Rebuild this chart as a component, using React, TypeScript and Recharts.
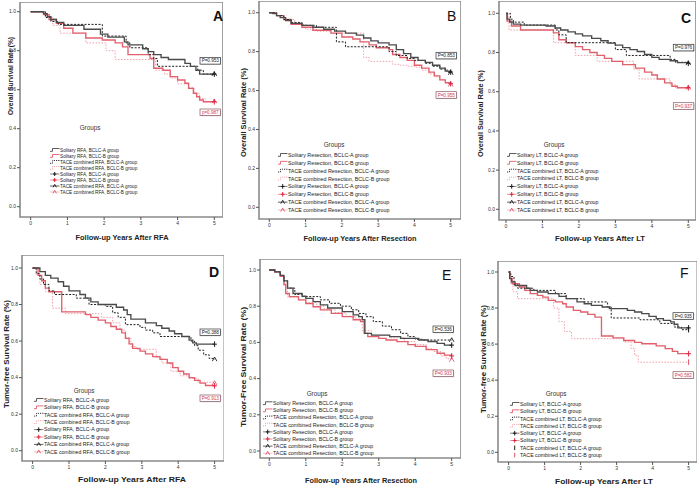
import React from 'react';
import { LineChart, Line, XAxis, YAxis, ReferenceArea } from 'recharts';

type Pt = [number, number];

const yearTicks = [0, 1, 2, 3, 4, 5];
const rateTicks = [0, 0.2, 0.4, 0.6, 0.8, 1.0];

// ---------- Panel A: overall survival after RFA ----------
const rfaOsSolA: Pt[] = [[0,1],[0.35,0.99],[0.45,0.975],[0.55,0.96],[0.7,0.945],[0.9,0.93],[1.45,0.91],[1.9,0.885],[2.1,0.87],[2.55,0.845],[2.65,0.83],[3.05,0.81],[3.2,0.795],[3.35,0.78],[3.55,0.765],[3.75,0.755],[4.2,0.735],[4.35,0.72],[4.5,0.7],[4.6,0.68],[5,0.68]];
const rfaOsTaceA: Pt[] = [[0,1],[0.4,0.97],[0.55,0.95],[0.75,0.935],[1.95,0.875],[2.6,0.84],[2.7,0.815],[3.2,0.78],[3.35,0.76],[3.45,0.72],[4.55,0.7],[4.7,0.68],[5,0.68]];
const rfaOsSolB: Pt[] = [[0,1],[0.35,0.985],[0.5,0.96],[0.7,0.94],[0.9,0.915],[1.15,0.89],[1.5,0.865],[1.95,0.855],[2.3,0.84],[2.5,0.82],[2.65,0.78],[3.25,0.76],[3.35,0.71],[3.6,0.7],[3.8,0.667],[4.0,0.65],[4.2,0.633],[4.3,0.607],[4.43,0.582],[4.52,0.564],[4.6,0.547],[4.7,0.538],[5,0.538]];
const rfaOsTaceB: Pt[] = [[0,1],[0.4,0.97],[0.6,0.93],[0.8,0.89],[1.5,0.84],[2.05,0.8],[2.3,0.755],[3.4,0.7],[3.65,0.68],[3.8,0.66],[4.0,0.63],[4.3,0.61],[4.45,0.58],[4.6,0.555],[4.75,0.54],[5,0.54]];

// ---------- Panel B: overall survival after resection ----------
const resOsSolA: Pt[] = [[0,1],[0.1,0.995],[0.2,0.985],[0.3,0.975],[0.45,0.96],[0.6,0.945],[0.9,0.935],[1.2,0.925],[1.5,0.915],[1.8,0.905],[2.1,0.895],[2.4,0.885],[2.6,0.87],[2.8,0.855],[3.0,0.845],[3.3,0.835],[3.5,0.81],[3.7,0.79],[3.9,0.77],[4.1,0.755],[4.3,0.745],[4.5,0.73],[4.7,0.715],[4.85,0.7],[5,0.695]];
const resOsTaceA: Pt[] = [[0,1],[0.2,0.985],[0.4,0.965],[0.6,0.95],[0.9,0.935],[1.3,0.925],[1.85,0.85],[2.1,0.825],[3.3,0.8],[3.5,0.78],[3.8,0.765],[4.0,0.755],[4.3,0.74],[4.5,0.725],[4.7,0.71],[4.9,0.695],[5,0.69]];
const resOsSolB: Pt[] = [[0,1],[0.2,0.985],[0.4,0.965],[0.6,0.94],[0.9,0.925],[1.2,0.91],[1.7,0.895],[2.0,0.875],[2.3,0.865],[2.5,0.85],[2.75,0.835],[2.95,0.82],[3.3,0.81],[3.4,0.785],[3.6,0.77],[3.8,0.755],[4.0,0.73],[4.2,0.715],[4.4,0.695],[4.55,0.675],[4.7,0.655],[4.85,0.64],[5,0.635]];
const resOsTaceB: Pt[] = [[0,1],[0.2,0.985],[0.4,0.965],[0.7,0.94],[1.0,0.915],[1.3,0.905],[1.7,0.895],[2.6,0.77],[2.75,0.75],[3.4,0.735],[3.6,0.73],[3.8,0.725],[4.0,0.72],[4.2,0.705],[4.4,0.685],[4.55,0.67],[4.7,0.655],[4.85,0.64],[5,0.63]];

// ---------- Panel C: overall survival after LT ----------
const ltOsSolA: Pt[] = [[0,1],[0.03,0.97],[0.1,0.955],[0.2,0.945],[0.4,0.94],[1.1,0.935],[1.35,0.925],[1.5,0.915],[1.7,0.905],[1.9,0.895],[2.1,0.885],[2.35,0.872],[2.6,0.86],[2.8,0.848],[3.0,0.838],[3.2,0.825],[3.4,0.815],[3.6,0.805],[3.8,0.79],[4.0,0.775],[4.2,0.765],[4.5,0.758],[4.7,0.748],[5,0.745]];
const ltOsTaceA: Pt[] = [[0,1],[0.12,0.97],[0.2,0.955],[0.5,0.94],[1.35,0.915],[1.45,0.89],[1.65,0.85],[3.0,0.815],[3.3,0.785],[4.5,0.765],[4.65,0.75],[5,0.745]];
const ltOsSolB: Pt[] = [[0,1],[0.03,0.96],[0.15,0.935],[0.4,0.915],[1.3,0.9],[1.45,0.865],[1.65,0.85],[1.9,0.83],[2.1,0.815],[2.3,0.8],[2.5,0.785],[2.7,0.77],[2.9,0.755],[3.2,0.738],[3.55,0.72],[3.8,0.7],[4.0,0.685],[4.15,0.665],[4.35,0.645],[4.55,0.628],[4.7,0.62],[5,0.62]];
const ltOsTaceB: Pt[] = [[0,1],[0.08,0.915],[1.3,0.85],[1.9,0.785],[2.5,0.755],[3.5,0.715],[3.65,0.665],[4.5,0.635],[4.65,0.62],[5,0.62]];

// ---------- Panel D: tumor-free survival after RFA ----------
const rfaTfSolA: Pt[] = [[0,1],[0.2,0.98],[0.35,0.96],[0.5,0.945],[0.7,0.925],[0.85,0.9],[1.0,0.875],[1.3,0.855],[1.45,0.835],[1.6,0.815],[1.8,0.8],[2.3,0.785],[2.5,0.77],[2.6,0.745],[2.7,0.72],[3.1,0.7],[3.4,0.685],[3.55,0.67],[3.75,0.655],[3.9,0.64],[4.1,0.625],[4.3,0.605],[4.4,0.59],[4.5,0.583],[5,0.583]];
const rfaTfTaceA: Pt[] = [[0,1],[0.1,0.97],[0.2,0.94],[0.3,0.91],[0.45,0.875],[0.6,0.855],[1.2,0.835],[1.55,0.8],[2.0,0.79],[2.2,0.755],[2.35,0.73],[2.55,0.69],[2.95,0.675],[3.1,0.66],[3.3,0.645],[3.5,0.625],[4.35,0.6],[4.45,0.575],[4.55,0.55],[4.7,0.525],[4.85,0.505],[5,0.5]];
const rfaTfSolB: Pt[] = [[0,1],[0.15,0.96],[0.25,0.93],[0.35,0.89],[0.45,0.87],[0.8,0.76],[1.45,0.745],[1.6,0.73],[1.8,0.715],[2.0,0.7],[2.15,0.68],[2.3,0.665],[2.45,0.645],[2.55,0.615],[2.65,0.585],[2.75,0.56],[2.95,0.545],[3.1,0.53],[3.3,0.515],[3.5,0.5],[3.7,0.48],[3.85,0.455],[4.0,0.435],[4.15,0.42],[4.3,0.4],[4.45,0.385],[4.6,0.37],[4.75,0.357],[5,0.355]];
const rfaTfTaceB: Pt[] = [[0,1],[0.1,0.96],[0.2,0.91],[0.35,0.87],[0.55,0.78],[0.9,0.75],[1.9,0.73],[2.2,0.7],[2.4,0.66],[2.55,0.62],[2.7,0.57],[2.85,0.555],[3.4,0.51],[3.55,0.48],[3.8,0.435],[4.05,0.41],[4.3,0.395],[4.55,0.375],[5,0.37]];

// ---------- Panel E: tumor-free survival after resection ----------
const resTfSolA: Pt[] = [[0,1],[0.15,0.99],[0.3,0.97],[0.4,0.94],[0.5,0.9],[0.65,0.87],[0.9,0.855],[1.0,0.843],[1.2,0.825],[1.4,0.807],[1.6,0.79],[2.0,0.77],[2.3,0.752],[2.45,0.742],[2.55,0.725],[2.62,0.65],[2.8,0.64],[3.3,0.632],[3.6,0.622],[4.1,0.613],[4.35,0.605],[4.6,0.595],[4.8,0.585],[5,0.585]];
const resTfTaceA: Pt[] = [[0,1],[0.15,0.99],[0.3,0.97],[0.4,0.94],[0.5,0.9],[0.7,0.865],[0.9,0.853],[1.4,0.835],[1.65,0.816],[1.95,0.8],[2.25,0.78],[2.45,0.76],[2.65,0.742],[2.85,0.715],[3.1,0.69],[3.35,0.67],[3.6,0.65],[3.8,0.632],[4.0,0.617],[4.2,0.613],[5,0.613]];
const resTfSolB: Pt[] = [[0,1],[0.15,0.99],[0.3,0.965],[0.4,0.92],[0.45,0.87],[0.55,0.853],[0.8,0.835],[1.0,0.815],[1.2,0.797],[1.4,0.78],[1.7,0.76],[2.0,0.742],[2.3,0.725],[2.5,0.715],[2.6,0.65],[2.7,0.632],[3.0,0.622],[3.2,0.613],[3.5,0.604],[3.8,0.588],[4.0,0.578],[4.3,0.56],[4.6,0.54],[4.8,0.53],[5,0.525]];
const resTfTaceB: Pt[] = [[0,1],[0.15,0.99],[0.3,0.965],[0.4,0.93],[0.5,0.85],[0.8,0.835],[1.0,0.82],[1.3,0.8],[1.5,0.785],[1.8,0.765],[2.1,0.745],[2.35,0.73],[2.55,0.665],[2.8,0.64],[3.3,0.625],[3.7,0.605],[4.0,0.588],[4.3,0.565],[4.5,0.55],[4.7,0.525],[4.85,0.51],[5,0.503]];

// ---------- Panel F: tumor-free survival after LT ----------
const ltTfSolA: Pt[] = [[0,1],[0.03,0.965],[0.08,0.945],[0.18,0.925],[0.5,0.91],[0.6,0.898],[0.8,0.889],[1.1,0.88],[1.4,0.865],[1.6,0.852],[1.9,0.834],[2.1,0.824],[2.3,0.815],[2.6,0.806],[2.8,0.797],[3.3,0.787],[3.5,0.778],[3.7,0.769],[3.9,0.754],[4.1,0.741],[4.3,0.732],[4.5,0.723],[4.6,0.71],[4.7,0.69],[5,0.69]];
const ltTfTaceA: Pt[] = [[0,1],[0.06,0.975],[0.15,0.93],[0.25,0.91],[0.7,0.898],[1.3,0.88],[1.6,0.852],[2.1,0.834],[2.75,0.806],[2.85,0.745],[3.65,0.735],[4.2,0.715],[4.6,0.695],[4.8,0.68],[5,0.68]];
const ltTfSolB: Pt[] = [[0,1],[0.03,0.963],[0.1,0.935],[0.3,0.917],[0.45,0.898],[0.6,0.88],[0.8,0.87],[0.95,0.861],[1.1,0.843],[1.3,0.834],[1.5,0.824],[1.6,0.806],[1.8,0.787],[2.0,0.778],[2.2,0.765],[2.4,0.75],[2.58,0.645],[2.9,0.635],[3.2,0.62],[3.5,0.61],[3.7,0.602],[4.1,0.59],[4.35,0.575],[4.55,0.56],[4.7,0.547],[5,0.547]];
const ltTfTaceB: Pt[] = [[0,1],[0.05,0.935],[0.12,0.89],[0.25,0.852],[1.25,0.8],[1.4,0.725],[1.55,0.67],[1.75,0.63],[3.2,0.612],[3.4,0.575],[3.5,0.538],[3.6,0.5],[5,0.5]];

// P values
const pValuesA = ['P=0.953', 'p=0.987'];
const pValuesB = ['P=0.853', 'P=0.955'];
const pValuesC = ['P=0.976', 'P=0.937'];
const pValuesD = ['P=0.388', 'P=0.913'];
const pValuesE = ['P=0.536', 'P=0.933'];
const pValuesF = ['P=0.935', 'P=0.582'];

type Kind = 'solA' | 'solB' | 'taceA' | 'taceB';
const STYLE: Record<Kind, { stroke: string; dash?: string; w: number; mark: string }> = {
  solA: { stroke: '#4a4a4a', w: 1.35, mark: '#1a1a1a' },
  solB: { stroke: '#e2606c', w: 1.35, mark: '#e0203c' },
  taceA: { stroke: '#1e1e1e', dash: '2 1.5', w: 1, mark: '#1a1a1a' },
  taceB: { stroke: '#f0a0aa', dash: '1.5 1.5', w: 1, mark: '#e05068' },
};

interface PanelCfg {
  id: string;
  letterBold: boolean;
  letter: [number, number];
  box: { L: number; R: number; T: number; B: number };
  px: { x0: number; x5: number; y1: number; y0: number };
  series: Record<Kind, Pt[]>;
  sol: string;
  tace: string;
  tacemark: 'tri' | 'bar';
  xTitle: string;
  xT: [number, number, number];
  yTitle: string;
  yT: [number, number, number];
  legend: { gx: number; y: number; dy: number; fs: number; gxC: number; gy: number };
  p: string[];
  pBox: [number, number, number];
}

const panels: PanelCfg[] = [
  {
    id: 'A', letterBold: true, letter: [213, 20.5],
    box: { L: 20, R: 223, T: 2, B: 217 }, px: { x0: 30.7, x5: 214.3, y1: 11.7, y0: 206.7 },
    series: { solA: rfaOsSolA, solB: rfaOsSolB, taceA: rfaOsTaceA, taceB: rfaOsTaceB },
    sol: 'Solitary RFA', tace: 'TACE combined RFA', tacemark: 'tri',
    xTitle: 'Follow-up Years After RFA', xT: [122, 240, 93],
    yTitle: 'Overall Survival Rate (%)', yT: [10.5, 76, 78],
    legend: { gx: 50, y: 150, dy: 6, fs: 4.7, gxC: 90, gy: 130 },
    p: pValuesA, pBox: [200, 57.5, 109],
  },
  {
    id: 'B', letterBold: false, letter: [447, 20.5],
    box: { L: 259, R: 461, T: 1, B: 219 }, px: { x0: 269.3, x5: 450.7, y1: 12.7, y0: 207.3 },
    series: { solA: resOsSolA, solB: resOsSolB, taceA: resOsTaceA, taceB: resOsTaceB },
    sol: 'Solitary Resection', tace: 'TACE combined Resection', tacemark: 'tri',
    xTitle: 'Follow-up Years After Resection', xT: [360, 241, 113],
    yTitle: 'Overall Survival Rate (%)', yT: [243, 112.5, 89],
    legend: { gx: 278, y: 155, dy: 7.86, fs: 5.35, gxC: 334, gy: 147 },
    p: pValuesB, pBox: [436, 52.3, 91.7],
  },
  {
    id: 'C', letterBold: true, letter: [681, 23],
    box: { L: 499, R: 696, T: 1, B: 220 }, px: { x0: 506, x5: 688.3, y1: 13.3, y0: 209.3 },
    series: { solA: ltOsSolA, solB: ltOsSolB, taceA: ltOsTaceA, taceB: ltOsTaceB },
    sol: 'Solitary LT', tace: 'TACE combined LT', tacemark: 'tri',
    xTitle: 'Follow-up Years After LT', xT: [600, 241, 90],
    yTitle: 'Overall Survival Rate (%)', yT: [480, 113.5, 87],
    legend: { gx: 507, y: 155, dy: 7.86, fs: 5.28, gxC: 554, gy: 147 },
    p: pValuesC, pBox: [673.3, 44.3, 102.7],
  },
  {
    id: 'D', letterBold: true, letter: [209, 277],
    box: { L: 21.7, R: 224, T: 255, B: 461 }, px: { x0: 32.3, x5: 214.3, y1: 268, y0: 450.7 },
    series: { solA: rfaTfSolA, solB: rfaTfSolB, taceA: rfaTfTaceA, taceB: rfaTfTaceB },
    sol: 'Solitary RFA', tace: 'TACE combined RFA', tacemark: 'tri',
    xTitle: 'Follow-up Years After RFA', xT: [132, 482, 108],
    yTitle: 'Tumor-free Survival Rate (%)', yT: [6.3, 354, 108],
    legend: { gx: 34, y: 400, dy: 7.4, fs: 5.2, gxC: 84, gy: 392.5 },
    p: pValuesD, pBox: [200, 329, 395],
  },
  {
    id: 'E', letterBold: false, letter: [442, 280],
    box: { L: 260, R: 461, T: 259, B: 458 }, px: { x0: 269.3, x5: 451.7, y1: 270, y0: 451 },
    series: { solA: resTfSolA, solB: resTfSolB, taceA: resTfTaceA, taceB: resTfTaceB },
    sol: 'Solitary Resection', tace: 'TACE combined Resection', tacemark: 'tri',
    xTitle: 'Follow-up Years After Resection', xT: [361, 483, 112],
    yTitle: 'Tumor-Free Survival Rate (%)', yT: [243, 367, 120],
    legend: { gx: 263, y: 403.3, dy: 7.14, fs: 5.3, gxC: 317, gy: 395.5 },
    p: pValuesE, pBox: [433, 326, 370],
  },
  {
    id: 'F', letterBold: false, letter: [680, 278],
    box: { L: 497.7, R: 697, T: 260.7, B: 461.7 }, px: { x0: 508.3, x5: 688.3, y1: 271.7, y0: 452 },
    series: { solA: ltTfSolA, solB: ltTfSolB, taceA: ltTfTaceA, taceB: ltTfTaceB },
    sol: 'Solitary LT', tace: 'TACE combined LT', tacemark: 'bar',
    xTitle: 'Follow-up Years After LT', xT: [604, 484, 98],
    yTitle: 'Tumor-free Survival Rate (%)', yT: [483, 359, 108],
    legend: { gx: 510, y: 404, dy: 7.3, fs: 5.28, gxC: 556, gy: 396 },
    p: pValuesF, pBox: [673, 312.7, 371.7],
  },
];

function Marker({ cx, cy, kind, color, s = 1 }: { cx: number; cy: number; kind: string; color: string; s?: number }) {
  if (kind === 'plus') {
    return (
      <g stroke={color} strokeWidth={1} fill="none">
        <line x1={cx - 2.3 * s} y1={cy} x2={cx + 2.3 * s} y2={cy} />
        <line x1={cx} y1={cy - 2.8 * s} x2={cx} y2={cy + 2.8 * s} />
      </g>
    );
  }
  if (kind === 'bar') {
    return (
      <g stroke={color} strokeWidth={1} fill="none">
        <line x1={cx} y1={cy - 2.8 * s} x2={cx} y2={cy + 2.8 * s} />
      </g>
    );
  }
  return (
    <g stroke={color} strokeWidth={0.9} fill="none">
      <path d={`M${cx - 2.3 * s},${cy + 1.8 * s} L${cx},${cy - 2.3 * s} L${cx + 2.3 * s},${cy + 1.8 * s}`} />
    </g>
  );
}

const ORDER: Kind[] = ['taceB', 'solB', 'taceA', 'solA'];

function Panel({ cfg }: { cfg: PanelCfg }) {
  const { L, R, T, B } = cfg.box;
  const { x0, x5, y1, y0 } = cfg.px;
  const ppy = (x5 - x0) / 5;
  const ppu = y0 - y1;
  const xmin = (L - x0) / ppy;
  const xmax = (R - x0) / ppy;
  const ymin = (y0 - B) / ppu;
  const ymax = (y0 - T) / ppu;
  const YW = 22;
  const XH = 14;
  const w = R - L + YW;
  const h = B - T + XH;
  return (
    <div style={{ position: 'absolute', left: L - YW, top: T, width: w, height: h }}>
      <LineChart width={w} height={h} margin={{ top: 0, right: 0, bottom: 0, left: 0 }}>
        <XAxis
          type="number" dataKey="t" domain={[xmin, xmax]} ticks={yearTicks} allowDataOverflow
          height={XH} interval={0} tickSize={3} tickMargin={1}
          axisLine={false} tickLine={{ stroke: '#555' }}
          tick={{ fontSize: 5, fill: '#333' }}
        />
        <YAxis
          type="number" dataKey="s" domain={[ymin, ymax]} ticks={rateTicks} allowDataOverflow
          width={YW} interval={0} tickSize={3} tickMargin={1}
          axisLine={false} tickLine={{ stroke: '#555' }}
          tick={{ fontSize: 5, fill: '#333' }}
          tickFormatter={(v: number) => v.toFixed(1)}
        />
        <ReferenceArea x1={xmin} x2={xmax} y1={ymin} y2={ymax} fill="none" stroke="#8a8a8a" strokeWidth={1.6} ifOverflow="visible" />
        {ORDER.map((k) => {
          const pts = cfg.series[k];
          const st = STYLE[k];
          const markKind = k === 'solA' || k === 'solB' ? 'plus' : cfg.tacemark;
          const n = pts.length;
          return (
            <Line
              key={k}
              data={pts.map(([t, s]) => ({ t, s }))}
              dataKey="s"
              type="stepAfter"
              stroke={st.stroke}
              strokeWidth={st.w}
              strokeDasharray={st.dash}
              isAnimationActive={false}
              activeDot={false}
              dot={(p: any) =>
                p.index === n - 1 ? (
                  <Marker key={`${k}-m`} cx={p.cx} cy={p.cy} kind={markKind} color={st.mark} />
                ) : (
                  <g key={`${k}-${p.index}`} />
                )
              }
            />
          );
        })}
      </LineChart>
    </div>
  );
}

function Overlay() {
  return (
    <svg width={700} height={487} style={{ position: 'absolute', left: 0, top: 0, pointerEvents: 'none' }}>
      {panels.map((cfg) => {
        const lg = cfg.legend;
        const kinds: Kind[] = ['solA', 'solB', 'taceA', 'taceB'];
        const label = (k: Kind) =>
          `${k.startsWith('sol') ? cfg.sol : cfg.tace}, BCLC-${k.endsWith('A') ? 'A' : 'B'} group`;
        const ms = lg.fs / 6.5;
        return (
          <g key={cfg.id}>
            <text x={cfg.letter[0]} y={cfg.letter[1]} fontSize={14} fontWeight={cfg.letterBold ? 'bold' : 'normal'} fill="#111">
              {cfg.id}
            </text>
            <text x={cfg.xT[0]} y={cfg.xT[1]} fontSize={8} fontWeight="bold" textAnchor="middle" fill="#222"
              textLength={cfg.xT[2]} lengthAdjust="spacingAndGlyphs">
              {cfg.xTitle}
            </text>
            <text transform={`translate(${cfg.yT[0] + 2.9},${cfg.yT[1]}) rotate(-90)`} fontSize={8} fontWeight="bold"
              textAnchor="middle" fill="#222" textLength={cfg.yT[2]} lengthAdjust="spacingAndGlyphs">
              {cfg.yTitle}
            </text>
            <text x={lg.gxC} y={lg.gy} fontSize={6.3} textAnchor="middle" fill="#333">Groups</text>
            {kinds.map((k, i) => {
              const cy = lg.y + i * lg.dy;
              const st = STYLE[k];
              return (
                <g key={`l${k}`}>
                  <path d={`M${lg.gx},${cy + 1.3} H${lg.gx + 2.5} V${cy - 1.5} H${lg.gx + 9.5}`} fill="none"
                    stroke={st.stroke} strokeWidth={0.9} strokeDasharray={st.dash ? '1.2 1' : undefined} />
                  <text x={lg.gx + 10} y={cy + lg.fs * 0.36} fontSize={lg.fs} fill="#222">{label(k)}</text>
                </g>
              );
            })}
            {kinds.map((k, i) => {
              const cy = lg.y + (i + 4) * lg.dy;
              const st = STYLE[k];
              const mk = k.startsWith('sol') ? 'plus' : cfg.tacemark;
              return (
                <g key={`c${k}`}>
                  {mk !== 'bar' && (
                    <line x1={lg.gx} y1={cy} x2={lg.gx + 9.5} y2={cy} stroke={st.stroke} strokeWidth={0.7} />
                  )}
                  <Marker cx={lg.gx + 4.7} cy={cy} kind={mk} color={st.mark} s={ms} />
                  <text x={lg.gx + 10} y={cy + lg.fs * 0.36} fontSize={lg.fs} fill="#222">{label(k)}</text>
                </g>
              );
            })}
            {[0, 1].map((j) => {
              const bx = cfg.pBox[0];
              const by = j === 0 ? cfg.pBox[1] : cfg.pBox[2];
              return (
                <g key={`p${j}`}>
                  <rect x={bx + 0.6} y={by + 0.6} width={20.5} height={6.6} fill="#bdbdbd" />
                  <rect x={bx} y={by} width={20.5} height={6.6} fill="#fff" stroke={j === 0 ? '#333' : '#8a5560'} strokeWidth={0.7} />
                  <text x={bx + 10.25} y={by + 4.9} fontSize={4.6} textAnchor="middle" fill={j === 0 ? '#222' : '#d03a58'}>
                    {cfg.p[j]}
                  </text>
                </g>
              );
            })}
          </g>
        );
      })}
    </svg>
  );
}

export default function App() {
  return (
    <div
      style={{
        position: 'absolute', left: 0, top: 0, width: 700, height: 487, background: '#fff',
        fontFamily: '"Liberation Sans", Arial, sans-serif', overflow: 'hidden',
      }}
    >
      {panels.map((cfg) => (
        <Panel key={cfg.id} cfg={cfg} />
      ))}
      <Overlay />
    </div>
  );
}
